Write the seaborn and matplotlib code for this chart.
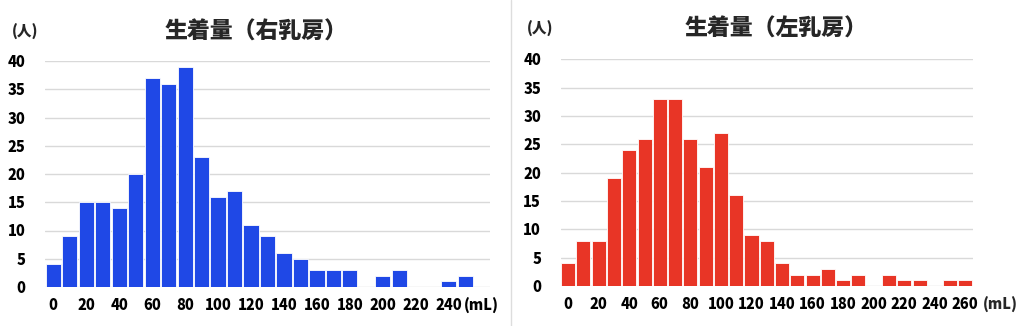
import matplotlib
matplotlib.use("Agg")
import matplotlib.pyplot as plt
from matplotlib.lines import Line2D
import seaborn as sns
import pandas as pd

sns.set_theme(style="white")
plt.rcParams['font.family'] = ['Noto Sans CJK JP', 'DejaVu Sans']

# ---- data ----
right_bins = [str(v) for v in range(0, 260, 10)]          # 0..250
right_counts = [4, 9, 15, 15, 14, 20, 37, 36, 39, 23, 16, 17, 11, 9, 6, 5,
                3, 3, 3, 0, 2, 3, 0, 0, 1, 2]
left_bins = [str(v) for v in range(0, 270, 10)]           # 0..260
left_counts = [4, 8, 8, 19, 24, 26, 33, 33, 26, 21, 27, 16, 9, 8, 4, 2,
               2, 3, 1, 2, 0, 2, 1, 1, 0, 1, 1]
right_title = "生着量（右乳房）"
left_title = "生着量（左乳房）"
y_ticks = [0, 5, 10, 15, 20, 25, 30, 35, 40]
right_xlabels = [str(v) for v in range(0, 250, 20)] + ["(mL)"]
left_xlabels = [str(v) for v in range(0, 280, 20)]
unit_y = "(人)"
unit_x = "(mL)"

blue = "#1F48E6"
red = "#E83526"
grid_c = "#D9D9D9"

W, H = 1024, 326
fig = plt.figure(figsize=(W / 100, H / 100), dpi=100)
fig.patch.set_facecolor("white")

TICK_FS = 10.5


def px_axes(l, r, t, b):
    return fig.add_axes([l / W, 1 - b / H, (r - l) / W, (b - t) / H])


def style(ax, xlabels):
    ax.set_ylim(0, 40)
    ax.set_xlim(-0.5, 26.5)
    ax.set_yticks(y_ticks)
    ax.set_yticklabels([str(v) for v in y_ticks], fontsize=TICK_FS, fontweight="heavy")
    ax.set_xticks(range(0, 2 * len(xlabels), 2))
    ax.set_xticklabels(xlabels, fontsize=TICK_FS, fontweight="heavy")
    ax.yaxis.grid(True, color=grid_c, linewidth=1)
    ax.set_axisbelow(True)
    for s in ax.spines.values():
        s.set_visible(False)
    ax.tick_params(axis="both", length=0, colors="black")
    ax.tick_params(axis="y", pad=14)
    ax.tick_params(axis="x", pad=8)
    ax.set_xlabel("")
    ax.set_ylabel("")


# left panel (right breast)
ax1 = px_axes(45, 490, 61, 287)
df1 = pd.DataFrame({"bin": right_bins, "count": right_counts})
sns.barplot(data=df1, x="bin", y="count", color=blue, saturation=1,
            width=0.92, edgecolor="white", linewidth=0.6, ax=ax1)
style(ax1, right_xlabels)
fig.text(256 / W, 1 - 32 / H, right_title, ha="center", va="center",
         fontsize=16.5, fontweight="heavy")
fig.text(25 / W, 1 - 32 / H, unit_y, ha="center", va="center",
         fontsize=10.5, fontweight="heavy")

# right panel (left breast)
ax2 = px_axes(560.5, 973, 59.3, 286)
df2 = pd.DataFrame({"bin": left_bins, "count": left_counts})
sns.barplot(data=df2, x="bin", y="count", color=red, saturation=1,
            width=0.92, edgecolor="white", linewidth=0.6, ax=ax2)
style(ax2, left_xlabels)
fig.text(776 / W, 1 - 29 / H, left_title, ha="center", va="center",
         fontsize=16.5, fontweight="heavy")
fig.text(540 / W, 1 - 29 / H, unit_y, ha="center", va="center",
         fontsize=10.5, fontweight="heavy")
fig.text(1000 / W, 1 - 305 / H, unit_x, ha="center", va="center",
         fontsize=TICK_FS, fontweight="heavy")

# separator
fig.add_artist(Line2D([511 / W, 511 / W], [0, 1], color="#DDDDDD",
                      linewidth=1, transform=fig.transFigure))

fig.savefig("out.png", dpi=100, facecolor="white")
